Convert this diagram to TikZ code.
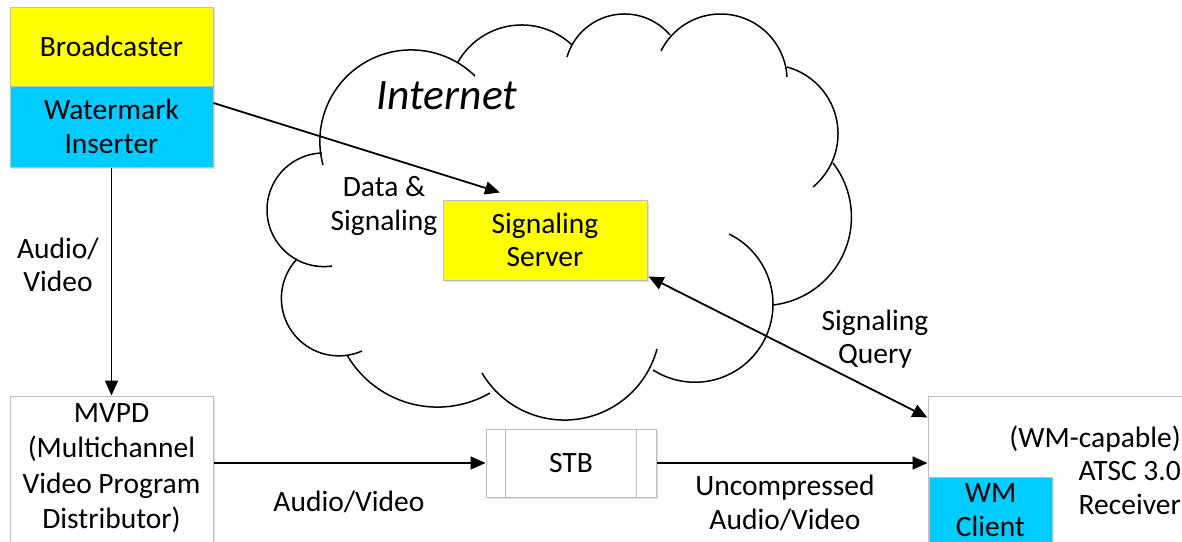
\documentclass[tikz,border=0pt]{standalone}
\usepackage{fontspec}
\setmainfont{Carlito}
\usetikzlibrary{arrows.meta,shadows,calc}
\definecolor{bcyellow}{RGB}{255,255,0}
\definecolor{wmcyan}{RGB}{0,204,255}
\definecolor{boxgray}{RGB}{190,190,190}
\newcommand\fs{\fontsize{29.5}{33.5}\selectfont}
\newcommand\cldlobe[6]{%
 \edef\cldD{\fpeval{2*((#1)*((#4)-(#6))+(#3)*((#6)-(#2))+(#5)*((#2)-(#4)))}}%
 \edef\cldUx{\fpeval{round((((#1)^2+(#2)^2)*((#4)-(#6))+((#3)^2+(#4)^2)*((#6)-(#2))+((#5)^2+(#6)^2)*((#2)-(#4)))/\cldD,3)}}%
 \edef\cldUy{\fpeval{round((((#1)^2+(#2)^2)*((#5)-(#3))+((#3)^2+(#4)^2)*((#1)-(#5))+((#5)^2+(#6)^2)*((#3)-(#1)))/\cldD,3)}}%
 \edef\cldR{\fpeval{round(sqrt(((#1)-\cldUx)^2+((#2)-\cldUy)^2),3)}}%
 \edef\cldtA{\fpeval{atand((#2)-\cldUy,(#1)-\cldUx)}}%
 \edef\cldtM{\fpeval{atand((#4)-\cldUy,(#3)-\cldUx)}}%
 \edef\cldtB{\fpeval{atand((#6)-\cldUy,(#5)-\cldUx)}}%
 \edef\clddB{\fpeval{\cldtB-\cldtA-360*floor((\cldtB-\cldtA)/360)}}%
 \edef\clddM{\fpeval{\cldtM-\cldtA-360*floor((\cldtM-\cldtA)/360)}}%
 \edef\cldS{\fpeval{round(\clddM<\clddB ? \cldtA : \cldtB,3)}}%
 \edef\cldE{\fpeval{round(\clddM<\clddB ? \cldtA+\clddB : \cldtB+360-\clddB,3)}}%
 \draw[cloudline] plot[domain=\cldS:\cldE, samples=60, smooth] ({\cldUx+\cldR*cos(\x)},{\cldUy+\cldR*sin(\x)});%
}
\tikzset{
 box/.style={draw=boxgray, line width=1pt, inner sep=0pt, align=center, font=\fs,
   drop shadow={shadow xshift=1.5pt, shadow yshift=-1.5pt, fill=black!25, opacity=0.5}},
 lbl/.style={align=center, inner sep=0pt, font=\fs},
 tip/.style={Triangle[length=15pt,width=13pt]},
 conn/.style={line width=1.8pt, -{Triangle[length=15pt,width=13pt]}},
 cloudline/.style={line width=1.5pt, black},
}
\begin{document}
\begin{tikzpicture}[x=1pt,y=-1pt]
\useasboundingbox (0,0) rectangle (1182,541);
% cloud
\cldlobe{323}{165}{407}{50}{475}{76}
\cldlobe{458}{62}{520}{25}{572}{45}
\cldlobe{567}{57}{623}{14}{670}{35}
\cldlobe{661}{51}{720}{14}{787}{77}
\cldlobe{787}{67}{838}{133}{813}{187}
\cldlobe{833}{163}{850}{233}{773}{305}
\cldlobe{729}{234}{773}{305}{653}{370}
\cldlobe{482}{373}{568}{420}{657}{349}
\cldlobe{347}{355}{433}{407}{490}{393}
\cldlobe{297}{259}{293}{333}{362}{351}
\cldlobe{322}{153}{267}{210}{332}{266}
\node[lbl, font=\fontsize{43.5}{50}\selectfont\itshape] (inet) at (447,96) {Internet};
% boxes
\node[box, fill=bcyellow, minimum width=203pt, minimum height=79pt] (bc) at (111.5,46.5) {Broadcaster};
\node[box, fill=wmcyan, minimum width=203pt, minimum height=81pt] (wm) at (111.5,126.5) {Watermark\\Inserter};
\node[box, fill=white, minimum width=203pt, minimum height=164pt] (mvpd) at (111.5,478) {};
\node[lbl, font=\fontsize{29.5}{35.5}\selectfont] (mvpdt) at (111.5,468) {MVPD\\(Multichannel\\Video Program\\Distributor)};
\node[box, fill=bcyellow, minimum width=204pt, minimum height=80pt] (srv) at (545,240) {Signaling\\Server};
\node[box, fill=white, minimum width=170pt, minimum height=68pt] (stb) at (571,463) {STB};
\draw[boxgray, line width=1pt] ([xshift=20pt]stb.north west) -- ([xshift=20pt]stb.south west);
\draw[boxgray, line width=1pt] ([xshift=-20pt]stb.north east) -- ([xshift=-20pt]stb.south east);
\node[box, fill=white, minimum width=272pt, minimum height=174pt] (rcv) at (1064,483) {};
\node[lbl, align=right, anchor=east] (rcvt) at (1181,470) {(WM-capable)\\ATSC 3.0\\Receiver};
\node[box, fill=wmcyan, minimum width=123pt, minimum height=93pt] (wmc) at (990.5,523.5) {};
\node[lbl] (wmct) at (990.5,510) {WM\\Client};
% connectors
\draw[conn] (wm) -- (mvpd);
\draw[conn] (mvpd.east |- stb.west) -- (stb.west);
\draw[conn] (stb.east) -- (stb.east -| rcv.west);
\draw[conn] ([yshift=23.5pt]wm.east) -- ([xshift=-45pt,yshift=7pt]srv.north);
\draw[line width=1.8pt, {Triangle[length=15pt,width=13pt]}-{Triangle[length=15pt,width=13pt]}]
  ([xshift=1pt,yshift=4pt]srv.south east) -- ([yshift=-22pt]rcv.north west);
% labels
\node[lbl] (l1) at (58,265) {Audio/\\Video};
\node[lbl] (l2) at (384,206) {Data \&\\Signaling};
\node[lbl] (l3) at (875,339) {Signaling\\Query};
\node[lbl] (l4) at (349,502) {Audio/Video};
\node[lbl] (l5) at (785,503) {Uncompressed\\Audio/Video};
\end{tikzpicture}
\end{document}
